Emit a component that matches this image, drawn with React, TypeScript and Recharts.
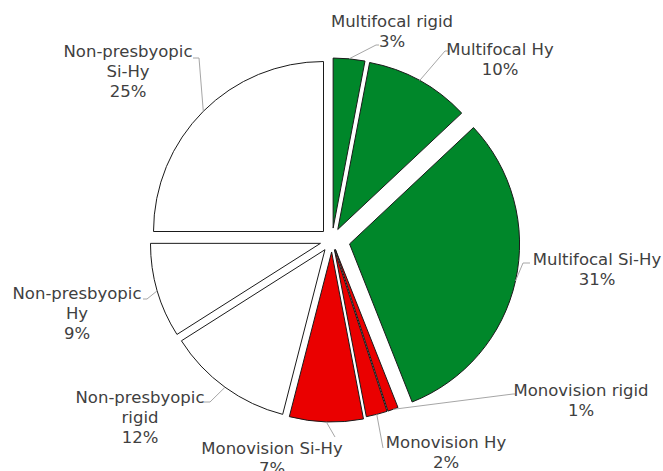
import { PieChart, Pie, Cell } from "recharts";

const CATEGORIES = [
  "Multifocal rigid",
  "Multifocal Hy",
  "Multifocal Si-Hy",
  "Monovision rigid",
  "Monovision Hy",
  "Monovision Si-Hy",
  "Non-presbyopic rigid",
  "Non-presbyopic Hy",
  "Non-presbyopic Si-Hy",
];
const LABEL_TEXT = [
  ["Multifocal rigid"],
  ["Multifocal Hy"],
  ["Multifocal Si-Hy"],
  ["Monovision rigid"],
  ["Monovision Hy"],
  ["Monovision Si-Hy"],
  ["Non-presbyopic", "rigid"],
  ["Non-presbyopic", "Hy"],
  ["Non-presbyopic", "Si-Hy"],
];
const SHARES = [3, 10, 31, 1, 2, 7, 12, 9, 25];

const GREEN = "#00872a";
const RED = "#ea0000";
const WHITE = "#ffffff";
const COLORS = [GREEN, GREEN, GREEN, RED, RED, RED, WHITE, WHITE, WHITE];

// explosion distance of each slice, px
const EXPLODE = [12, 12, 18, 10, 10, 12, 12, 12, 12];

// label placement relative to pie centre: text centre x / first baseline y,
// leader elbow and end point
const LABEL_LAYOUT = [
  { tx: 60, ty: -213, ex: 44, ey: -195, hx: 3 },
  { tx: 168, ty: -185, ex: 113, ey: -189, hx: 3 },
  { tx: 265, ty: 25, ex: 191, ey: 23, hx: 7 },
  { tx: 249, ty: 156, ex: 181, ey: 154, hx: 2 },
  { tx: 114, ty: 208, ex: 51, ey: 208, hx: 0 },
  { tx: -60, ty: 214, ex: 3, ey: 197, hx: 0 },
  { tx: -192, ty: 163, ex: -122, ey: 162, hx: -6 },
  { tx: -255, ty: 59, ex: -185, ey: 59, hx: -4 },
  { tx: -204, ty: -183, ex: -133, ey: -182, hx: -6 },
];

const data = CATEGORIES.map((name, i) => ({ name, value: SHARES[i] }));
const total = SHARES.reduce((a, b) => a + b, 0);

// mid angle of every slice, degrees clockwise from 12 o'clock
const midAngles = SHARES.map((v, i) => {
  const before = SHARES.slice(0, i).reduce((a, b) => a + b, 0);
  return ((before + v / 2) / total) * 360;
});

function offsetOf(i: number) {
  const rad = (midAngles[i] * Math.PI) / 180;
  return { dx: EXPLODE[i] * Math.sin(rad), dy: -EXPLODE[i] * Math.cos(rad) };
}

const FONT = "DejaVu Sans, Verdana, sans-serif";

function renderLabel(props: any) {
  const { cx, cy, outerRadius, index, value } = props;
  const i = index;
  const rad = (midAngles[i] * Math.PI) / 180;
  const { dx, dy } = offsetOf(i);
  const sx = cx + dx + outerRadius * Math.sin(rad);
  const sy = cy + dy - outerRadius * Math.cos(rad);
  const l = LABEL_LAYOUT[i];
  const pts = [
    [sx, sy],
    [cx + l.ex, cy + l.ey],
    [cx + l.ex + l.hx, cy + l.ey],
  ]
    .map((p) => p.join(","))
    .join(" ");
  const lines = [...LABEL_TEXT[i], `${value}%`];
  return (
    <g key={`lbl-${i}`}>
      <polyline points={pts} fill="none" stroke="#a6a6a6" strokeWidth={1} />
      <text
        x={cx + l.tx}
        y={cy + l.ty}
        textAnchor="middle"
        fill="#404040"
        fontSize={16.5}
        fontFamily={FONT}
      >
        {lines.map((t, k) => (
          <tspan key={k} x={cx + l.tx} dy={k === 0 ? 0 : 20}>
            {t}
          </tspan>
        ))}
      </text>
    </g>
  );
}

export default function App() {
  return (
    <div style={{ position: "absolute", left: 0, top: 0, background: "#fff" }}>
      <PieChart
        width={663}
        height={471}
        margin={{ top: 0, right: 0, bottom: 0, left: 0 }}
      >
        <Pie
          data={data}
          dataKey="value"
          nameKey="name"
          cx={332}
          cy={240}
          outerRadius={170}
          startAngle={90}
          endAngle={-270}
          stroke="#1a1a1a"
          strokeWidth={1}
          label={renderLabel}
          labelLine={false}
          isAnimationActive={false}
        >
          {data.map((d, i) => {
            const { dx, dy } = offsetOf(i);
            return (
              <Cell
                key={d.name}
                fill={COLORS[i]}
                transform={`translate(${dx.toFixed(2)},${dy.toFixed(2)})`}
              />
            );
          })}
        </Pie>
      </PieChart>
    </div>
  );
}
